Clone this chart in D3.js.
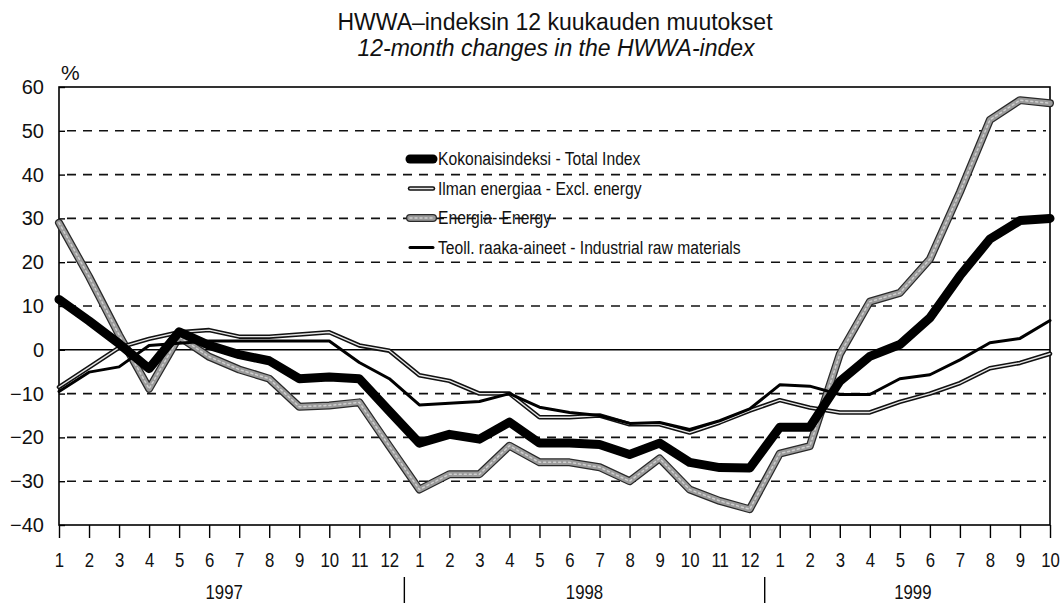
<!DOCTYPE html>
<html>
<head>
<meta charset="utf-8">
<script src="https://cdn.jsdelivr.net/npm/d3@7"></script>
<style>
    body { margin: 0; background: #fff; }
    text { font-family: "Liberation Sans", Arial, sans-serif; fill: #111; }
</style>
</head>
<body>
<div id="chart"></div>
<script>

// months Jan 1997 - Oct 1999
let monthLabels = [1,2,3,4,5,6,7,8,9,10,11,12, 1,2,3,4,5,6,7,8,9,10,11,12, 1,2,3,4,5,6,7,8,9,10]
let years = ["1997", "1998", "1999"]
let yTicks = [60, 50, 40, 30, 20, 10, 0, -10, -20, -30, -40]

let totalIndex = [11.5, 6.6, 1.4, -4.3, 4.1, 1.0, -1.1, -2.5, -6.6, -6.2, -6.6, -14.0,
    -21.3, -19.3, -20.4, -16.5, -21.3, -21.3, -21.6, -23.9, -21.3, -25.7, -26.9, -27.0,
    -17.7, -17.7, -7.2, -1.5, 1.2, 7.3, 16.9, 25.3, 29.5, 30.0]

let exclEnergy = [-8.5, -4.0, 0.5, 2.5, 4.0, 4.5, 3.0, 3.0, 3.5, 4.0, 1.0, -0.2,
    -5.8, -7.1, -10.0, -10.0, -15.4, -15.4, -15.0, -17.0, -17.0, -18.9, -16.6, -13.9,
    -11.5, -13.2, -14.3, -14.3, -11.9, -10.0, -7.6, -4.2, -3.0, -0.9]

let energy = [29.0, 16.7, 3.4, -8.9, 3.0, -1.6, -4.5, -6.6, -13.0, -12.7, -12.0, -22.0,
    -31.9, -28.4, -28.4, -21.9, -25.7, -25.7, -26.8, -30.0, -24.8, -31.9, -34.5, -36.4,
    -23.7, -22.0, -1.0, 11.0, 13.0, 20.7, 36.0, 52.5, 57.0, 56.3]

let rawMaterials = [-9.5, -5.1, -3.9, 1.0, 1.5, 2.0, 2.0, 2.0, 2.0, 2.0, -2.9, -6.6,
    -12.6, -12.2, -11.8, -10.0, -13.1, -14.3, -15.0, -16.8, -16.6, -18.2, -16.2, -13.5,
    -8.0, -8.3, -10.2, -10.2, -6.6, -5.7, -2.3, 1.6, 2.6, 6.7]

let seriesNames = ["Kokonaisindeksi - Total Index", "Ilman energiaa - Excl. energy",
    "Energia- Energy", "Teoll. raaka-aineet - Industrial raw materials"]

// line styles: each layer is one stroke drawn on top of the previous
let styles = {
    total:  [{color: "#000", width: 9}],
    excl:   [{color: "#111", width: 4.5}, {color: "#e6e6e6", width: 1.4}],
    energy: [{color: "#2a2a2a", width: 8}, {color: "#9a9a9a", width: 5.5}, {color: "#cfcfcf", width: 1.5, dash: "2,3"}],
    raw:    [{color: "#000", width: 3}]
}

// no narrow font installed, so squeeze the regular one
let squeeze = 0.84

let width = 1061, height = 603
let margin = {top: 87, right: 11, bottom: 78, left: 59}
let innerW = width - margin.left - margin.right
let innerH = height - margin.top - margin.bottom

let svg = d3.select("#chart").append("svg")
    .attr("width", width)
    .attr("height", height)

let g = svg.append("g")
    .attr("transform", `translate(${margin.left}, ${margin.top})`)

let x = d3.scaleLinear().domain([0, monthLabels.length - 1]).range([0, innerW])
let y = d3.scaleLinear().domain([-40, 60]).range([innerH, 0])

// titles
svg.append("text").attr("x", 555).attr("y", 30).attr("text-anchor", "middle")
    .style("font-size", "23px").text("HWWA–indeksin 12 kuukauden muutokset")
svg.append("text").attr("x", 556).attr("y", 56).attr("text-anchor", "middle")
    .style("font-size", "23px").style("font-style", "italic").text("12-month changes in the HWWA-index")
svg.append("text").attr("x", 61).attr("y", 80).style("font-size", "21px").text("%")

// dashed grid
g.selectAll(".grid").data(yTicks.filter(d => d !== 0 && d !== 60 && d !== -40))
    .join("line")
    .attr("x1", 8).attr("x2", innerW - 4)
    .attr("y1", d => y(d)).attr("y2", d => y(d))
    .attr("stroke", "#111").attr("stroke-width", 1.6)
    .attr("stroke-dasharray", "9,7")

// zero line
g.append("line").attr("x1", 0).attr("x2", innerW)
    .attr("y1", y(0)).attr("y2", y(0))
    .attr("stroke", "#000").attr("stroke-width", 1.6)

// frame
g.append("rect").attr("x", 0).attr("y", 0).attr("width", innerW).attr("height", innerH)
    .attr("fill", "none").attr("stroke", "#000").attr("stroke-width", 1.6)

// y axis
let yAxis = g.append("g")
    .call(d3.axisLeft(y).tickValues(yTicks).tickSize(6).tickFormat(d3.format("d")))
yAxis.select(".domain").remove()
yAxis.selectAll("line").attr("x2", 6).attr("stroke-width", 1.4)
yAxis.selectAll("text").attr("x", -15).style("font-size", "20px")
    .style("font-family", "'Liberation Sans', Arial, sans-serif").attr("fill", "#111")

// x axis
let xAxis = g.append("g").attr("transform", `translate(0, ${innerH})`)
    .call(d3.axisBottom(x).tickValues(d3.range(monthLabels.length)).tickSize(13)
        .tickFormat(i => monthLabels[i]))
xAxis.select(".domain").remove()
xAxis.selectAll("line").attr("stroke-width", 1.4)
xAxis.selectAll("text").attr("y", 28).attr("transform", `scale(${squeeze},1)`)
    .style("font-size", "20px").style("font-family", "'Liberation Sans', Arial, sans-serif")
    .attr("fill", "#111")

// year labels and separators
years.forEach((yr, k) => {
    let first = k * 12
    let last = Math.min(first + 11, monthLabels.length - 1)
    let cx = k < 2 ? (x(first) + x(last)) / 2 : (x(first - 0.5) + innerW + margin.right) / 2
    g.append("text").attr("x", cx / squeeze).attr("y", innerH + 74)
        .attr("transform", `scale(${squeeze},1)`)
        .attr("text-anchor", "middle").style("font-size", "20px").text(yr)
    if (k > 0) {
        g.append("line").attr("x1", x(first - 0.5)).attr("x2", x(first - 0.5))
            .attr("y1", innerH + 52).attr("y2", innerH + 80)
            .attr("stroke", "#000").attr("stroke-width", 1.4)
    }
})

let line = d3.line().x((d, i) => x(i)).y(d => y(d))

function drawSeries(data, layers) {
    layers.forEach(s => {
        g.append("path").datum(data)
            .attr("d", line)
            .attr("fill", "none")
            .attr("stroke", s.color)
            .attr("stroke-width", s.width)
            .attr("stroke-linejoin", "round")
            .attr("stroke-linecap", "round")
            .attr("stroke-dasharray", s.dash || null)
    })
}

drawSeries(energy, styles.energy)
drawSeries(exclEnergy, styles.excl)
drawSeries(rawMaterials, styles.raw)
drawSeries(totalIndex, styles.total)

// legend
let legend = svg.append("g").attr("transform", "translate(408, 159)")
let legendStyles = [styles.total, styles.excl, styles.energy, styles.raw]
seriesNames.forEach((name, i) => {
    let ly = i * 29.5
    legendStyles[i].forEach(s => {
        legend.append("line").attr("x1", 2).attr("x2", 25).attr("y1", ly).attr("y2", ly)
            .attr("stroke", s.color).attr("stroke-width", s.width)
            .attr("stroke-linecap", "round")
            .attr("stroke-dasharray", s.dash || null)
    })
    legend.append("text").attr("x", 30 / 0.87).attr("y", ly)
        .attr("transform", "scale(0.87,1)")
        .attr("dy", "0.35em").style("font-size", "18px").text(name)
})

</script>
</body>
</html>
